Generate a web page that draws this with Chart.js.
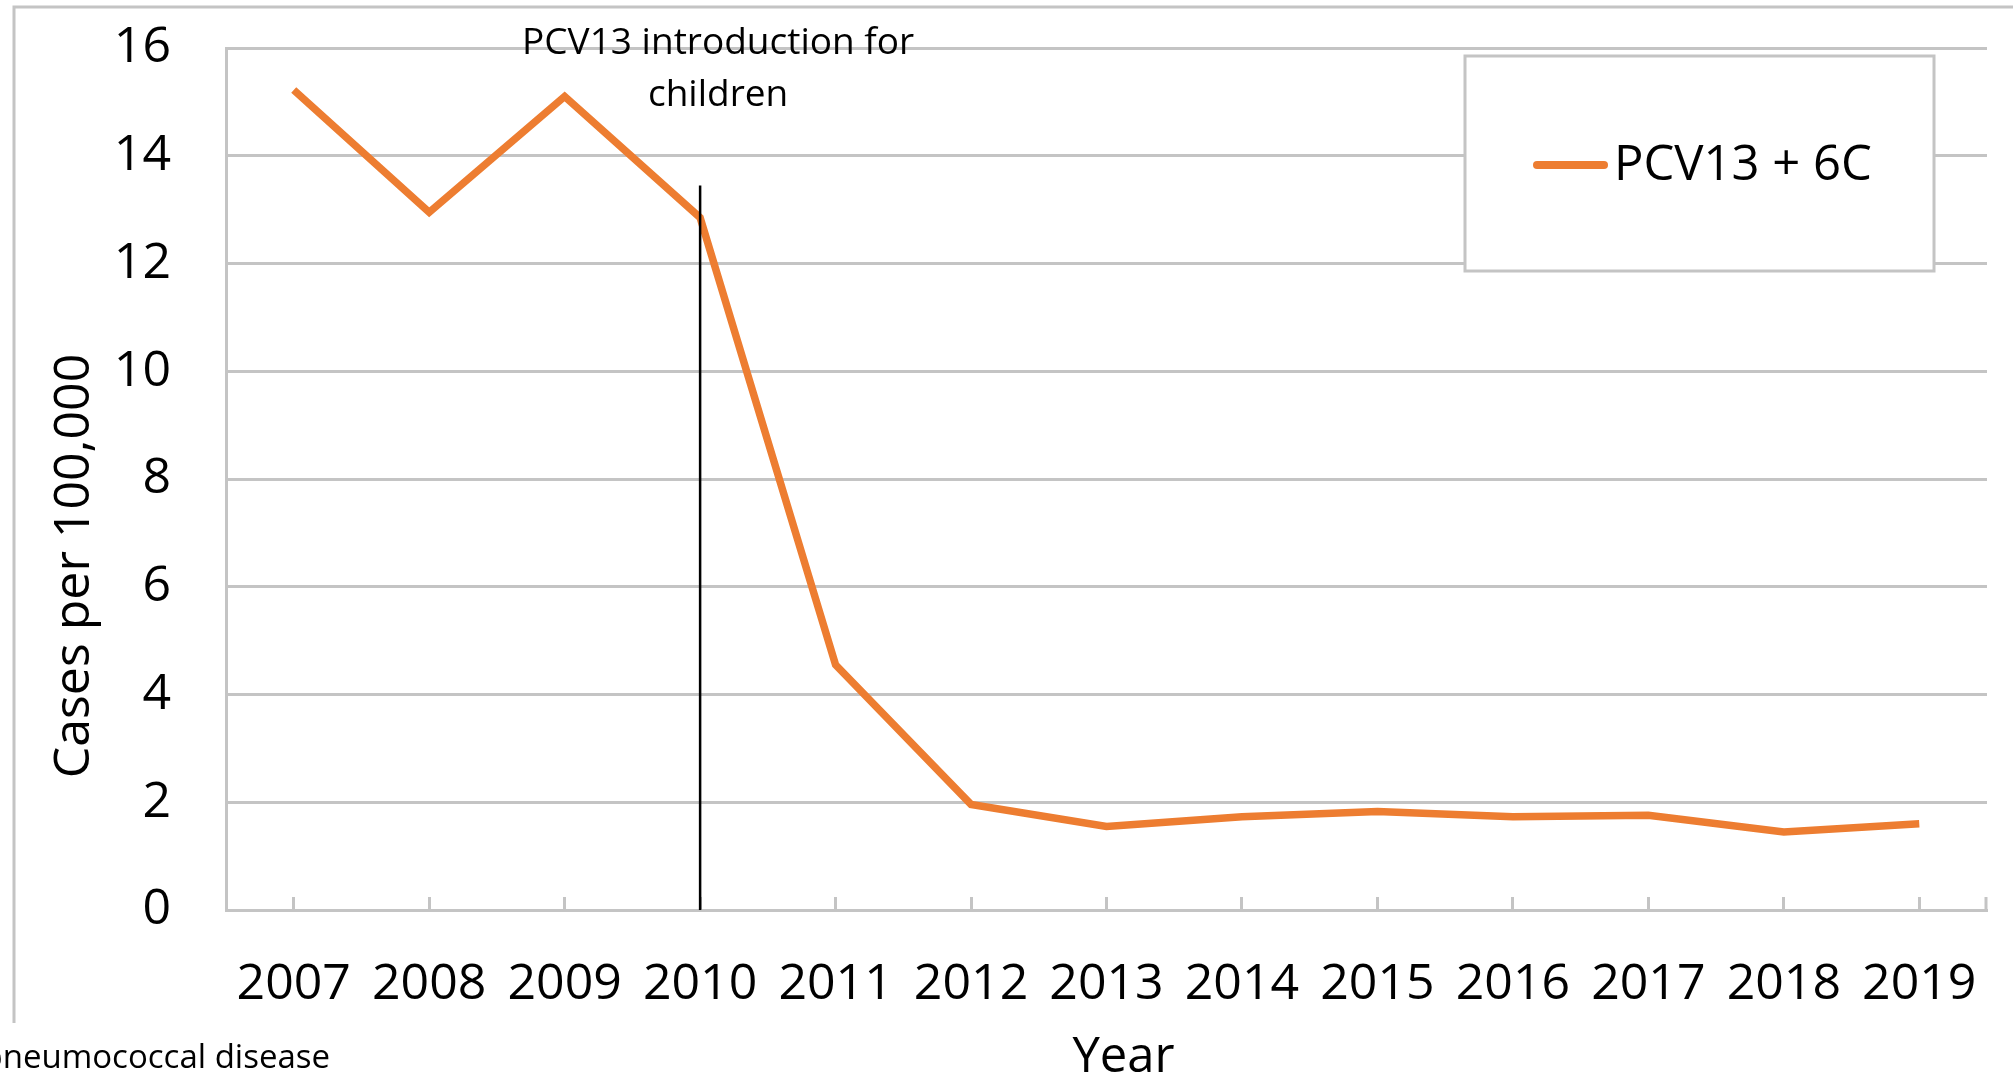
<!DOCTYPE html>
<html>
<head>
<meta charset="utf-8">
<script src="https://cdn.jsdelivr.net/npm/chart.js@4/dist/chart.umd.min.js"></script>
<style>
  html, body { margin: 0; padding: 0; background: #fff; }
  #wrap { width: 2013px; height: 1091px; position: relative; }
</style>
</head>
<body>
<div id="wrap"><canvas id="c" width="2013" height="1091"></canvas></div>
<script>
// ---- data ----
const years = ['2007','2008','2009','2010','2011','2012','2013','2014','2015','2016','2017','2018','2019'];
const pcv13_6c = [15.22, 12.95, 15.1, 12.85, 4.55, 1.96, 1.55, 1.73, 1.83, 1.73, 1.76, 1.45, 1.6];
const seriesLabel = 'PCV13 + 6C';
const yTicks = [0, 2, 4, 6, 8, 10, 12, 14, 16];
const introYear = '2010';
const introLineTop = 13.45;
const introText = ['PCV13 introduction for', 'children'];
const captionText = 'pneumococcal disease';
const yTitle = 'Cases per 100,000';
const xTitle = 'Year';

const GRID = '#c4c4c4';
const ORANGE = '#ED7D31';
const FONT = "'Open Sans', 'Noto Sans', sans-serif";

const decor = {
  id: 'decor',
  beforeDraw(chart) {
    const ctx = chart.ctx;
    ctx.save();
    ctx.fillStyle = '#fff';
    ctx.fillRect(0, 0, chart.width, chart.height);
    // outer frame (top + left)
    ctx.strokeStyle = GRID;
    ctx.lineWidth = 3;
    ctx.beginPath();
    ctx.moveTo(14, 1023);
    ctx.lineTo(14, 7);
    ctx.lineTo(chart.width, 7);
    ctx.stroke();
    ctx.restore();
  },
  afterDraw(chart) {
    const ctx = chart.ctx;
    const xs = chart.scales.x, ys = chart.scales.y;
    ctx.save();
    // end tick on x axis
    ctx.strokeStyle = GRID;
    ctx.lineWidth = 3;
    ctx.beginPath();
    ctx.moveTo(xs.right - 1, ys.bottom);
    ctx.lineTo(xs.right - 1, ys.bottom - 13);
    ctx.stroke();
    // intro marker line
    const xi = xs.getPixelForValue(years.indexOf(introYear));
    ctx.strokeStyle = '#000';
    ctx.lineWidth = 2.5;
    ctx.beginPath();
    ctx.moveTo(xi, ys.getPixelForValue(introLineTop));
    ctx.lineTo(xi, ys.getPixelForValue(0));
    ctx.stroke();
    // annotation text
    ctx.fillStyle = '#000';
    ctx.font = '37px ' + FONT;
    ctx.textAlign = 'center';
    ctx.textBaseline = 'alphabetic';
    ctx.fillText(introText[0], xi + 18, 54);
    ctx.fillText(introText[1], xi + 18, 106);
    // legend box
    ctx.fillStyle = '#fff';
    ctx.fillRect(1465, 56, 469, 215);
    ctx.strokeStyle = GRID;
    ctx.lineWidth = 3;
    ctx.strokeRect(1465, 56, 469, 215);
    ctx.strokeStyle = ORANGE;
    ctx.lineWidth = 8;
    ctx.lineCap = 'round';
    ctx.beginPath();
    ctx.moveTo(1537, 165);
    ctx.lineTo(1604, 165);
    ctx.stroke();
    ctx.fillStyle = '#000';
    ctx.font = '49px ' + FONT;
    ctx.textAlign = 'left';
    ctx.fillText(chart.data.datasets[0].label, 1614, 180);
    // x axis title
    ctx.font = '49px ' + FONT;
    ctx.textAlign = 'center';
    ctx.fillText(xTitle, (xs.left + xs.right) / 2 + 17, 1072);
    // caption at bottom left
    ctx.font = '33px ' + FONT;
    ctx.textAlign = 'right';
    ctx.fillText(captionText, 330, 1068);
    // y axis title
    ctx.save();
    ctx.translate(75, 566);
    ctx.rotate(-Math.PI / 2);
    ctx.font = '50px ' + FONT;
    ctx.textAlign = 'center';
    ctx.textBaseline = 'middle';
    ctx.fillText(yTitle, 0, 0);
    ctx.restore();
    ctx.restore();
  }
};

new Chart(document.getElementById('c'), {
  type: 'line',
  data: {
    labels: years,
    datasets: [{
      label: seriesLabel,
      data: pcv13_6c,
      borderColor: ORANGE,
      backgroundColor: ORANGE,
      borderWidth: 7.5,
      pointRadius: 0,
      pointHoverRadius: 0,
      tension: 0,
      fill: false
    }]
  },
  options: {
    responsive: false,
    animation: false,
    devicePixelRatio: 1,
    layout: { padding: { left: 0, top: 48, right: 26, bottom: 0 } },
    plugins: {
      legend: { display: false },
      tooltip: { enabled: false }
    },
    scales: {
      x: {
        offset: true,
        afterFit(scale) {
          scale.height = 181;
          scale.paddingLeft = 0;
          scale.paddingRight = 0;
        },
        grid: {
          drawOnChartArea: false,
          drawTicks: true,
          tickLength: -13,
          tickColor: GRID,
          tickWidth: 3,
          offset: false
        },
        border: { display: true, color: GRID, width: 3 },
        ticks: {
          autoSkip: false,
          maxRotation: 0,
          minRotation: 0,
          padding: 58,
          color: '#000',
          font: { family: FONT, size: 50 }
        },
        title: { display: false, text: xTitle }
      },
      y: {
        min: 0,
        max: 16,
        afterFit(scale) {
          scale.width = 226;
          scale.paddingTop = 0;
          scale.paddingBottom = 0;
        },
        afterBuildTicks(scale) { scale.ticks = yTicks.map(v => ({ value: v })); },
        grid: {
          color: GRID,
          lineWidth: 3,
          drawTicks: false
        },
        border: { display: true, color: GRID, width: 3 },
        ticks: {
          padding: 55,
          color: '#000',
          font: { family: FONT, size: 50 }
        },
        title: { display: false, text: yTitle }
      }
    }
  },
  plugins: [decor]
});
</script>
</body>
</html>
